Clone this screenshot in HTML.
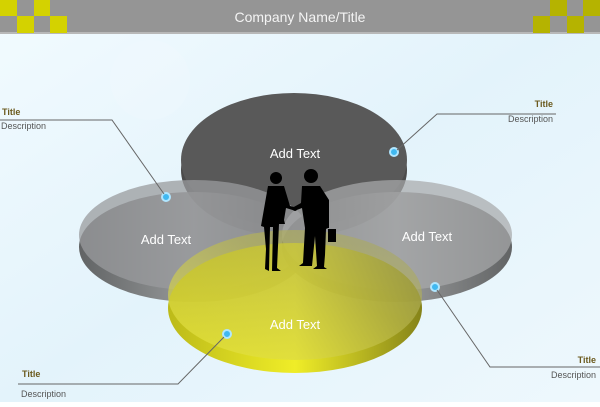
<!DOCTYPE html>
<html><head><style>
body{margin:0;width:600px;height:402px;overflow:hidden;font-family:"Liberation Sans",sans-serif;}
</style></head><body>
<svg width="600" height="402" viewBox="0 0 600 402" xmlns="http://www.w3.org/2000/svg" font-family="Liberation Sans, sans-serif">
<defs>
<linearGradient id="bg" x1="0" y1="0" x2="1" y2="1"><stop offset="0" stop-color="#f2fbff"/><stop offset="0.5" stop-color="#e3f3fb"/><stop offset="1" stop-color="#eef8fd"/></linearGradient>
<linearGradient id="side" x1="0" x2="1"><stop offset="0" stop-color="#4a4a4a"/><stop offset="0.5" stop-color="#8a8a8a"/><stop offset="1" stop-color="#4a4a4a"/></linearGradient>
<linearGradient id="yside" x1="0" x2="1"><stop offset="0" stop-color="#b8b400"/><stop offset="0.5" stop-color="#f0ec10"/><stop offset="1" stop-color="#7a7600"/></linearGradient>
<linearGradient id="yface" x1="0" y1="1" x2="1" y2="0"><stop offset="0" stop-color="#f2f040"/><stop offset="0.6" stop-color="#b8b650"/><stop offset="1" stop-color="#a0a070"/></linearGradient>
</defs>
<rect width="600" height="402" fill="url(#bg)"/>
<circle cx="150" cy="80" r="40" fill="#fff" opacity="0.1"/>
<rect x="0" y="0" width="600" height="33" fill="#959595"/>
<rect x="0" y="32" width="600" height="2" fill="#b8b8b8"/>
<g fill="#d4d200">
<rect x="0" y="0" width="17" height="16"/><rect x="34" y="0" width="16" height="16"/><rect x="17" y="16" width="17" height="17"/><rect x="50" y="16" width="17" height="17"/></g>
<g fill="#b5b300">
<rect x="550" y="0" width="17" height="16"/><rect x="583" y="0" width="17" height="16"/><rect x="533" y="16" width="17" height="17"/><rect x="567" y="16" width="17" height="17"/></g>
<text x="300" y="22" text-anchor="middle" fill="#f4f4f4" font-size="14">Company Name/Title</text>
<ellipse cx="294" cy="170" rx="113" ry="67" fill="url(#side)"/>
<ellipse cx="294" cy="160" rx="113" ry="67" fill="#595959"/>
<ellipse cx="194" cy="247" rx="115" ry="55" fill="url(#side)" opacity="0.85"/>
<ellipse cx="194" cy="235" rx="115" ry="55" fill="#9a9b9d" opacity="0.75"/>
<ellipse cx="397" cy="247" rx="115" ry="55" fill="url(#side)" opacity="0.85"/>
<ellipse cx="397" cy="235" rx="115" ry="55" fill="#a8a9ab" opacity="0.72"/>
<ellipse cx="295" cy="308" rx="127" ry="65" fill="url(#yside)" opacity="0.9"/>
<ellipse cx="295" cy="295" rx="127" ry="65" fill="url(#yface)" opacity="0.65"/>
<g fill="#fff" font-size="13" text-anchor="middle">
<text x="295" y="158">Add Text</text><text x="166" y="244">Add Text</text><text x="427" y="241">Add Text</text><text x="295" y="329">Add Text</text></g>
<g fill="#000">
<circle cx="276" cy="178" r="6"/><path d="M268 186h16l6 20 8 2-2 3-10-3-2 12 1 4-6 0 -2 44 4 3h-9l1-44-3 0-1 44-4-2 1-20-2-22-3-1z"/>
<circle cx="311" cy="176" r="7"/><path d="M302 186h18l9 14v28h-3l2 1h8v13h-8v-13l-2 0 -1 26-1 12 3 2h-14l4-3-2-30-3 30h-13l4-3 2-35-3-20-8 3-2-3 9-5z"/>
</g>
<g fill="#40b8f0" stroke="#b0e6ff" stroke-width="2">
<circle cx="166" cy="197" r="4"/><circle cx="394" cy="152" r="4"/><circle cx="435" cy="287" r="4"/><circle cx="227" cy="334" r="4"/></g>
<g stroke="#666" fill="none" stroke-width="1">
<polyline points="0,120 112,120 164,194"/>
<polyline points="397,150 437,114 556,114"/>
<polyline points="437,290 490,367 600,367"/>
<polyline points="224,337 178,384 18,384"/>
</g>
<g font-size="9">
<text x="2" y="115" fill="#6b5a1e" font-weight="bold">Title</text><text x="1" y="129" fill="#555">Description</text>
<text x="553" y="107" fill="#6b5a1e" font-weight="bold" text-anchor="end">Title</text><text x="553" y="122" fill="#555" text-anchor="end">Description</text>
<text x="596" y="363" fill="#6b5a1e" font-weight="bold" text-anchor="end">Title</text><text x="596" y="378" fill="#555" text-anchor="end">Description</text>
<text x="22" y="377" fill="#6b5a1e" font-weight="bold">Title</text><text x="21" y="397" fill="#555">Description</text>
</g>
</svg>
</body></html>
